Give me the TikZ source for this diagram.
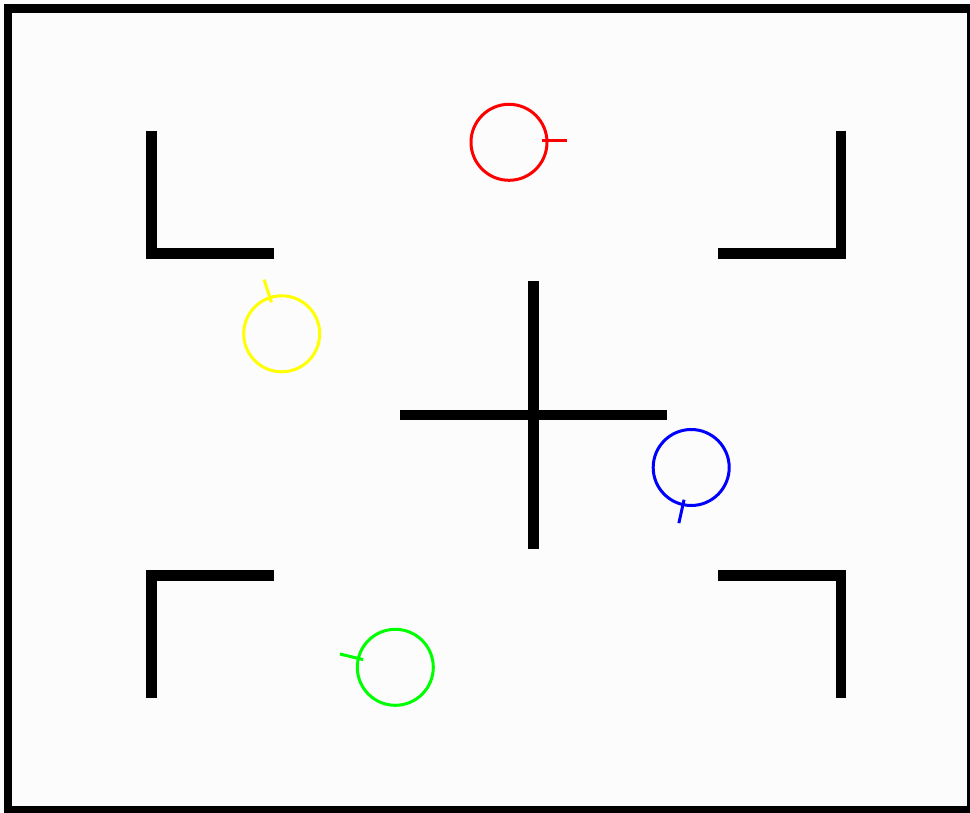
\documentclass[tikz,border=0pt]{standalone}
\begin{document}
\begin{tikzpicture}[x=1pt,y=-1pt,
  wall/.style={line width=10.5pt, line join=miter, line cap=butt},
  robot/.style={line width=3pt},
  body/.style={circle, robot, minimum size=76pt, inner sep=0pt, outer sep=0pt}]
\useasboundingbox (0,0) rectangle (970,813);
\clip (0,0) rectangle (970,813);
\fill[white!99!black] (0,0) rectangle (970,813);
% frame
\draw[line width=8.5pt] (8,8.5) rectangle (971.5,810);
% corner walls
\draw[wall] (151.5,131) -- (151.5,253.5) -- (274,253.5);
\draw[wall] (841,131) -- (841,253.5) -- (718,253.5);
\draw[wall] (274,575.5) -- (151.5,575.5) -- (151.5,698);
\draw[wall] (718,575.5) -- (841,575.5) -- (841,698);
% central cross
\draw[wall] (533.7,281) -- (533.7,548.7);
\draw[wall] (400,415) -- (667,415);
% robots
\node[body, draw=red] (r) at (509,142.3) {};
\draw[robot, red] ([shift={(33,-1.6)}]r.center) -- ([shift={(57.5,-1.6)}]r.center);
\node[body, draw={rgb,255:red,255;green,255;blue,0}] (y) at (281.7,333.8) {};
\draw[robot, draw={rgb,255:red,255;green,255;blue,0}] ([shift={(-108:33)}]y.center) -- ([shift={(-108:57)}]y.center);
\node[body, draw=blue] (b) at (691.2,467.5) {};
\draw[robot, blue] ([shift={(102.5:33)}]b.center) -- ([shift={(102.5:57)}]b.center);
\node[body, draw={rgb,255:red,0;green,255;blue,0}] (g) at (395.3,667.3) {};
\draw[robot, draw={rgb,255:red,0;green,255;blue,0}] ([shift={(-166.5:33)}]g.center) -- ([shift={(-166.5:57)}]g.center);
\end{tikzpicture}
\end{document}
